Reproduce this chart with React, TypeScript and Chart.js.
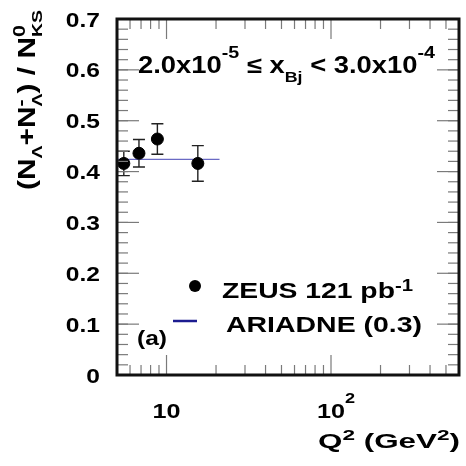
import { useEffect, useRef } from 'react';
import { Chart, registerables } from 'chart.js';

Chart.register(...registerables);

// ZEUS measurement: Q² bin centres, Λ/K0S ratio and its error
const q2Centers = [5.5, 6.8, 8.8, 15.5];
const lambdaRatio = [0.416, 0.436, 0.464, 0.416];
const lambdaRatioErr = [0.024, 0.027, 0.030, 0.035];

// ARIADNE prediction (strangeness suppression 0.3)
const ariadneQ2 = [5, 21];
const ariadneRatio = [0.424, 0.424];

// Axis ranges and labelled ticks
const X_MIN = 5;
const X_MAX = 600;
const Y_MIN = 0;
const Y_MAX = 0.7;
const yMajorTicks = [0, 0.1, 0.2, 0.3, 0.4, 0.5, 0.6, 0.7];
const yTickLabels = ['0', '0.1', '0.2', '0.3', '0.4', '0.5', '0.6', '0.7'];
const xMajorTicks = [10, 100];
const xTickMantissa = ['10', '10'];
const xTickExponent = ['', '2'];

const FONT = '"Liberation Sans", Arial, Helvetica, sans-serif';

type Seg = { t: string; k?: 'sub' | 'sup'; dy?: number; hold?: boolean };

function segSize(size: number, k?: 'sub' | 'sup') {
  return k === 'sub' ? size * 0.65 : k === 'sup' ? size * 0.72 : size;
}

function segsWidth(ctx: CanvasRenderingContext2D, segs: Seg[], size: number) {
  let w = 0;
  for (const s of segs) {
    ctx.font = `bold ${segSize(size, s.k)}px ${FONT}`;
    if (!s.hold) w += ctx.measureText(s.t).width;
  }
  return w;
}

// Draws a run of text with sub/superscripts, optionally stretched to a width
function drawSegs(
  ctx: CanvasRenderingContext2D,
  segs: Seg[],
  x: number,
  y: number,
  size: number,
  o: { align?: 'left' | 'center' | 'right'; width?: number; sx?: number; rotate?: boolean } = {}
) {
  const nat = segsWidth(ctx, segs, size);
  const sx = o.width ? o.width / nat : o.sx ?? 1;
  const total = nat * sx;
  const align = o.align ?? 'left';
  const start = align === 'left' ? 0 : align === 'center' ? -total / 2 : -total;
  ctx.save();
  ctx.translate(x, y);
  if (o.rotate) ctx.rotate(-Math.PI / 2);
  ctx.translate(start, 0);
  ctx.scale(sx, 1);
  ctx.textAlign = 'left';
  ctx.textBaseline = 'alphabetic';
  ctx.fillStyle = '#000';
  let cx = 0;
  for (const s of segs) {
    ctx.font = `bold ${segSize(size, s.k)}px ${FONT}`;
    const dy = s.dy ?? (s.k === 'sub' ? size * 0.3 : s.k === 'sup' ? -size * 0.4 : 0);
    ctx.fillText(s.t, cx, dy);
    if (!s.hold) cx += ctx.measureText(s.t).width;
  }
  ctx.restore();
}

const errorBars = {
  id: 'errorBars',
  beforeDatasetsDraw(chart: Chart) {
    const ctx = chart.ctx;
    const xs = chart.scales.x;
    const ys = chart.scales.y;
    ctx.save();
    ctx.strokeStyle = '#222';
    ctx.lineWidth = 1.4;
    q2Centers.forEach((q, i) => {
      const px = xs.getPixelForValue(q);
      const y1 = ys.getPixelForValue(lambdaRatio[i] + lambdaRatioErr[i]);
      const y2 = ys.getPixelForValue(lambdaRatio[i] - lambdaRatioErr[i]);
      ctx.beginPath();
      ctx.moveTo(px, y1);
      ctx.lineTo(px, y2);
      ctx.moveTo(px - 6, y1);
      ctx.lineTo(px + 6, y1);
      ctx.moveTo(px - 6, y2);
      ctx.lineTo(px + 6, y2);
      ctx.stroke();
    });
    ctx.restore();
  },
};

const frameAndText = {
  id: 'frameAndText',
  afterDraw(chart: Chart) {
    const ctx = chart.ctx;
    const { left, right, top, bottom } = chart.chartArea;
    const xs = chart.scales.x;
    const ys = chart.scales.y;
    const line = (x1: number, y1: number, x2: number, y2: number) => {
      ctx.beginPath();
      ctx.moveTo(x1, y1);
      ctx.lineTo(x2, y2);
      ctx.stroke();
    };

    ctx.save();
    ctx.strokeStyle = '#7a7a7a';
    ctx.lineWidth = 1.2;

    // y ticks, inside on both sides
    for (let i = 0; Y_MIN + i * 0.02 <= Y_MAX + 1e-9; i++) {
      const py = ys.getPixelForValue(Y_MIN + i * 0.02);
      line(left, py, left + 11, py);
      line(right, py, right - 11, py);
    }
    yMajorTicks.forEach((v) => {
      const py = ys.getPixelForValue(v);
      line(left, py, left + 22, py);
      line(right, py, right - 22, py);
    });

    // x ticks (logarithmic), inside on bottom and top
    for (let d = 1; d <= 1000; d *= 10) {
      for (let m = 1; m <= 9; m++) {
        const v = m * d;
        if (v < X_MIN || v > X_MAX) continue;
        const px = xs.getPixelForValue(v);
        const len = xMajorTicks.includes(v) ? 20 : 10;
        line(px, bottom, px, bottom - len);
        line(px, top, px, top + len);
      }
    }

    // frame
    ctx.strokeStyle = '#111';
    ctx.lineWidth = 3;
    ctx.strokeRect(left, top, right - left, bottom - top);
    ctx.restore();

    // y tick labels
    yMajorTicks.forEach((v, i) => {
      const py = ys.getPixelForValue(v);
      drawSegs(ctx, [{ t: yTickLabels[i] }], 100, py + 7.5, 21, { align: 'right', sx: 1.17 });
    });

    // x tick labels
    xMajorTicks.forEach((v, i) => {
      const px = xs.getPixelForValue(v);
      const size = 21;
      const sx = 1.2;
      ctx.font = `bold ${size}px ${FONT}`;
      const w = ctx.measureText(xTickMantissa[i]).width * sx;
      const segs: Seg[] = [{ t: xTickMantissa[i] }];
      if (xTickExponent[i]) segs.push({ t: xTickExponent[i], k: 'sup', dy: -15 });
      drawSegs(ctx, segs, px - w / 2, 418, size, { align: 'left', sx });
    });

    // axis titles
    drawSegs(
      ctx,
      [{ t: 'Q' }, { t: '2', k: 'sup', dy: -8 }, { t: ' (GeV' }, { t: '2', k: 'sup', dy: -8 }, { t: ')' }],
      460, 448, 21, { align: 'right', width: 142 }
    );
    drawSegs(
      ctx,
      [
        { t: '(N' },
        { t: 'Λ', k: 'sub' },
        { t: '+N' },
        { t: '-', k: 'sup', hold: true, dy: -9 },
        { t: 'Λ', k: 'sub' },
        { t: ') / N' },
        { t: '0', k: 'sup', hold: true, dy: -10 },
        { t: 'KS', k: 'sub' },
      ],
      35, 100, 23, { align: 'center', width: 180, rotate: true }
    );

    // kinematic range
    drawSegs(
      ctx,
      [
        { t: '2.0x10' },
        { t: '-5', k: 'sup', dy: -15 },
        { t: ' ≤ x' },
        { t: 'Bj', k: 'sub', dy: 9 },
        { t: ' < 3.0x10' },
        { t: '-4', k: 'sup', dy: -15 },
      ],
      138, 73, 23, { align: 'left', width: 297 }
    );

    // legend
    ctx.save();
    ctx.fillStyle = '#000';
    ctx.beginPath();
    ctx.arc(195, 286, 6, 0, Math.PI * 2);
    ctx.fill();
    ctx.strokeStyle = '#1c1c90';
    ctx.lineWidth = 2.5;
    line(173, 321, 197, 321);
    ctx.restore();
    drawSegs(ctx, [{ t: 'ZEUS 121 pb' }, { t: '-1', k: 'sup', dy: -7 }], 222, 298, 22, { width: 191 });
    drawSegs(ctx, [{ t: 'ARIADNE (0.3)' }], 226, 332, 22, { width: 196 });

    // panel label
    drawSegs(ctx, [{ t: '(a)' }], 137, 345, 21, { width: 30 });
  },
};

export default function App() {
  const canvasRef = useRef<HTMLCanvasElement | null>(null);

  useEffect(() => {
    const canvas = canvasRef.current;
    if (!canvas) return;
    const chart = new Chart(canvas, {
      type: 'scatter',
      data: {
        datasets: [
          {
            label: 'ZEUS 121 pb-1',
            data: q2Centers.map((q, i) => ({ x: q, y: lambdaRatio[i] })),
            backgroundColor: '#000',
            borderColor: '#000',
            pointRadius: 6,
            pointHoverRadius: 6,
            showLine: false,
            order: 0,
          },
          {
            label: 'ARIADNE (0.3)',
            data: ariadneQ2.map((q, i) => ({ x: q, y: ariadneRatio[i] })),
            borderColor: '#6a6ac4',
            borderWidth: 1.3,
            pointRadius: 0,
            showLine: true,
            order: 1,
          },
        ],
      },
      options: {
        responsive: false,
        animation: false,
        devicePixelRatio: 1,
        layout: { padding: { left: 117, top: 19, right: 5, bottom: 91 } },
        scales: {
          x: { type: 'logarithmic', min: X_MIN, max: X_MAX, display: false },
          y: { type: 'linear', min: Y_MIN, max: Y_MAX, display: false },
        },
        plugins: { legend: { display: false }, tooltip: { enabled: false } },
      },
      plugins: [errorBars, frameAndText],
    });
    return () => chart.destroy();
  }, []);

  return (
    <div style={{ position: 'fixed', left: 0, top: 0, width: 466, height: 466, background: '#fff' }}>
      <canvas ref={canvasRef} width={466} height={466} />
    </div>
  );
}
